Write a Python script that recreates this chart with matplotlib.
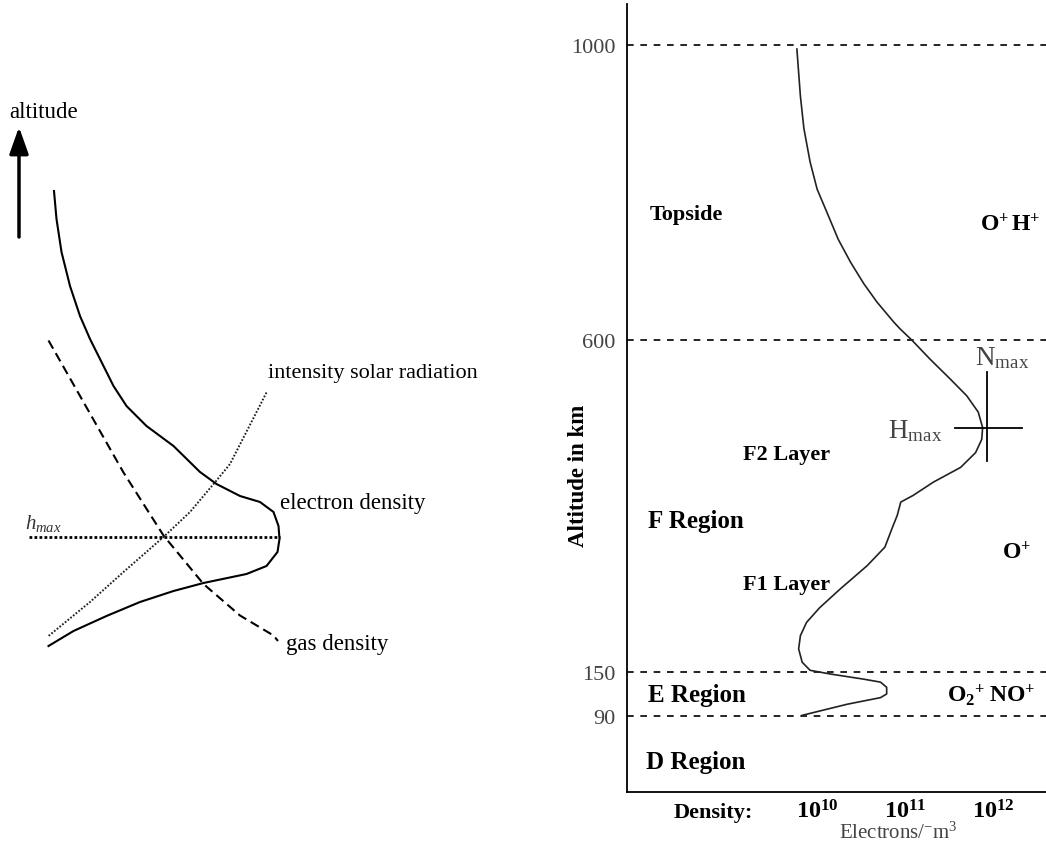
import numpy as np
import matplotlib
matplotlib.use("Agg")
from matplotlib import pyplot as plt

plt.rcParams['font.family'] = ['Liberation Serif', 'DejaVu Serif']
plt.rcParams['mathtext.fontset'] = 'custom'
plt.rcParams['mathtext.rm'] = 'Liberation Serif'
plt.rcParams['mathtext.it'] = 'Liberation Serif:italic'
plt.rcParams['mathtext.bf'] = 'Liberation Serif:bold'

# ---- left schematic (arbitrary units: x = relative value, y = altitude)
elec_x = [10.8, 11.3, 12.3, 14.0, 16.0, 18.0, 20.3, 22.7, 25.3, 29.3, 34.7, 40.0, 43.3, 48.0,
          52.0, 54.7, 55.7, 55.9, 55.5, 53.3, 49.3, 40.7, 34.7, 28.0, 21.3, 14.7, 9.7]
elec_y = [130.6, 125.0, 118.4, 111.6, 105.6, 101.0, 96.4, 91.6, 87.6, 83.6, 79.6, 74.4, 72.0, 69.6,
          68.4, 66.4, 63.6, 61.0, 58.4, 55.6, 54.0, 52.2, 50.6, 48.4, 45.6, 42.6, 39.6]
gas_x = [9.7, 24.7, 32.7, 40.7, 48.0, 54.7, 55.6]
gas_y = [100.7, 74.3, 61.7, 52.0, 45.7, 41.7, 40.6]
sun_x = [53.3, 46.0, 43.3, 38.0, 32.7, 24.7, 18.0, 9.7]
sun_y = [90.3, 76.0, 72.7, 66.4, 61.4, 54.4, 48.4, 41.6]
h_max = 61.4

# ---- right profile: log10(electron density) vs altitude (km)
log_ne = [9.77, 9.79, 9.81, 9.85, 9.92, 10.00, 10.11, 10.24, 10.38, 10.53, 10.68, 10.87,
          10.94, 11.08, 11.28, 11.51, 11.70, 11.83,
          11.88, 11.87, 11.80, 11.63, 11.32, 11.09, 10.95, 10.91, 10.85, 10.77, 10.57, 10.26,
          10.03, 9.88, 9.81, 9.79, 9.83, 9.92, 10.15, 10.53, 10.72, 10.79, 10.79, 10.72,
          10.34, 9.83]
alt_km = [994, 962, 930, 886, 841, 804, 773, 736, 705, 676, 651, 624,
          615, 599, 574, 547, 524, 502,
          481, 465, 447, 427, 407, 389, 380, 362, 344, 319, 294, 262,
          237, 217, 199, 181, 163, 152, 147, 140, 136, 129, 120, 115,
          106, 91]
alt_levels = [90, 150, 600, 1000]
density_ticks = [10, 11, 12]
density_labels = [r'$\mathbf{10^{10}}$', r'$\mathbf{10^{11}}$', r'$\mathbf{10^{12}}$']
peak_log_ne = 11.93
peak_alt = 481

fig = plt.figure(figsize=(10.46, 8.45), dpi=100)

# left panel
ax1 = fig.add_axes([0, 0, 540 / 1046, 1])
ax1.set_xlim(0, 108)
ax1.set_ylim(0, 169)
ax1.axis('off')
ax1.plot(elec_x, elec_y, color='black', lw=1.5)
ax1.plot(gas_x, gas_y, color='black', lw=1.5, dashes=(4.5, 2.5))
ax1.plot(sun_x, sun_y, color='#222222', lw=1.4, linestyle=(0, (0.9, 0.9)))
ax1.plot([5.8, 56.0], [h_max, h_max], color='black', lw=2, linestyle=(0, (1, 0.8)))
ax1.annotate('', xy=(3.8, 143.4), xytext=(3.8, 121.4),
             arrowprops=dict(arrowstyle='-|>,head_length=0.9,head_width=0.32', lw=2.5,
                             color='black', mutation_scale=18, shrinkA=0, shrinkB=0))
ax1.text(1.8, 146.6, 'altitude', fontsize=16.5, va='center', ha='left')
ax1.text(53.6, 94.2, 'intensity solar radiation', fontsize=16, va='center', ha='left')
ax1.text(56.0, 68.4, 'electron density', fontsize=16.5, va='center', ha='left')
ax1.text(57.2, 40.0, 'gas density', fontsize=16.5, va='center', ha='left')
ax1.text(5.0, 64.2, r'$h_{max}$', fontsize=15, va='center', ha='left', color='#333333')

# right panel
ax2 = fig.add_axes([627 / 1046, 52 / 845, 419 / 1046, 788 / 845])
ax2.set_xlim(7.84, 12.60)
ax2.set_ylim(-12.9, 1055)
for s in ['top', 'right']:
    ax2.spines[s].set_visible(False)
ax2.spines['left'].set_linewidth(1.3)
ax2.spines['bottom'].set_linewidth(1.3)

for lev in alt_levels:
    ax2.axhline(lev, color='black', lw=1.2, dashes=(4, 4))
ax2.plot(log_ne, alt_km, color='#222222', lw=1.2)
ax2.plot([peak_log_ne - 0.36, peak_log_ne + 0.40], [peak_alt, peak_alt], color='black', lw=1.3)
ax2.plot([peak_log_ne, peak_log_ne], [peak_alt - 45, peak_alt + 75], color='black', lw=1.3)

ax2.set_yticks(alt_levels)
ax2.set_yticklabels([str(v) for v in alt_levels], color='#444444', fontsize=16)
ax2.tick_params(axis='y', length=0, pad=8.5)
ax2.set_xticks(density_ticks)
ax2.set_xticklabels(density_labels, fontsize=17.5)
ax2.tick_params(axis='x', length=0, pad=5)
ax2.text(-0.1146, 0.402, 'Altitude in km', transform=ax2.transAxes, rotation=90,
         fontsize=16.5, fontweight='bold', va='center', ha='center')

bold = dict(fontsize=16, fontweight='bold', va='center', ha='left')
big = dict(fontsize=18, fontweight='bold', va='center', ha='left')
ax2.text(8.10, 770, 'Topside', **bold)
ax2.text(11.85, 757, r'$\mathbf{O^{+}\,H^{+}}$', fontsize=17, va='center', ha='left')
ax2.text(9.16, 445, 'F2 Layer', **bold)
ax2.text(8.08, 355, 'F Region', **big)
ax2.text(12.10, 312, r'$\mathbf{O^{+}}$', fontsize=17, va='center', ha='left')
ax2.text(9.16, 269, 'F1 Layer', **bold)
ax2.text(8.08, 119, 'E Region', **big)
ax2.text(11.48, 120, r'$\mathbf{O_{2}{}^{+}\;NO^{+}}$', fontsize=17, va='center', ha='left')
ax2.text(8.06, 29, 'D Region', **big)
ax2.text(12.10, 577, r'N$_{\mathrm{max}}$', fontsize=19.5, va='center', ha='center', color='#444444')
ax2.text(11.42, 478, r'H$_{\mathrm{max}}$', fontsize=19.5, va='center', ha='right', color='#444444')

xt = ax2.get_xaxis_transform()
ax2.text(8.82, -0.026, 'Density:', transform=xt, fontsize=16, fontweight='bold', va='center', ha='center')
ax2.text(10.92, -0.051, r'Electrons/$^{-}$m$^{3}$', transform=xt, fontsize=15, color='#444444',
         va='center', ha='center')

fig.savefig('out.png', dpi=100)
